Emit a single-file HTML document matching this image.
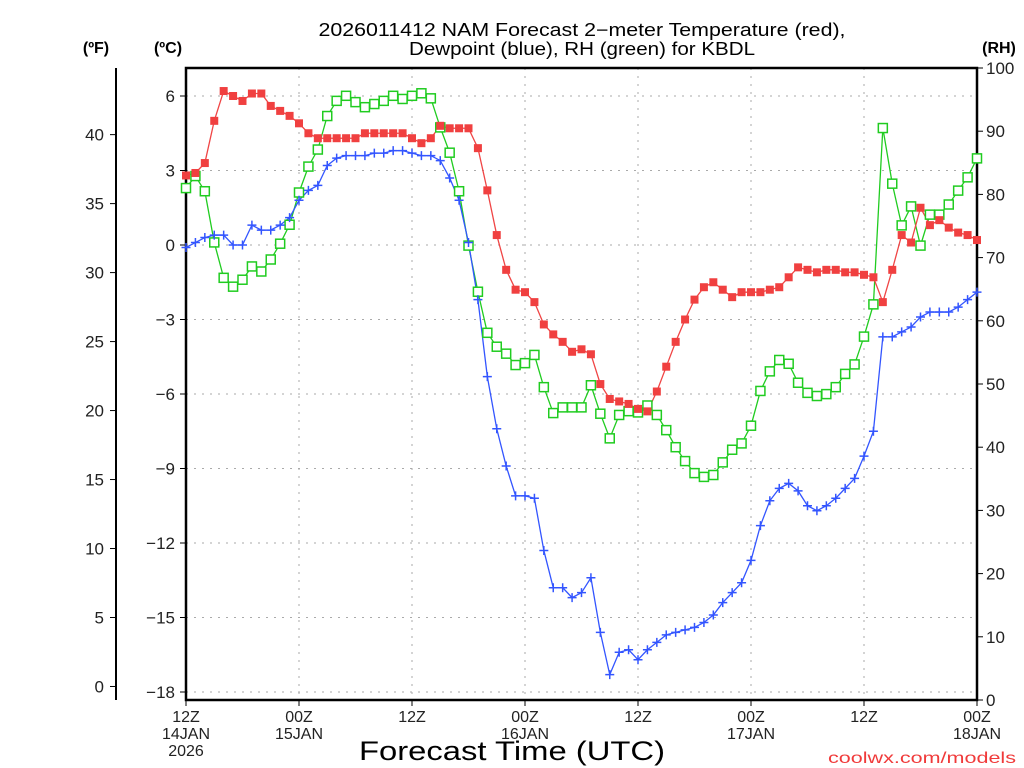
<!DOCTYPE html>
<html><head><meta charset="utf-8"><style>
html,body{margin:0;padding:0;background:#fff;}
svg{display:block;font-family:"Liberation Sans",sans-serif;}
</style></head><body>
<svg id="chart" width="1024" height="768" viewBox="0 0 1024 768" xmlns="http://www.w3.org/2000/svg">
<text x="582" y="36" font-size="18" text-anchor="middle" textLength="527" lengthAdjust="spacingAndGlyphs" fill="#000">2026011412 NAM Forecast 2−meter Temperature (red),</text>
<text x="582" y="55" font-size="18" text-anchor="middle" textLength="346" lengthAdjust="spacingAndGlyphs" fill="#000">Dewpoint (blue), RH (green) for KBDL</text>
<text x="96" y="53" font-size="16" font-weight="bold" text-anchor="middle">(ºF)</text>
<text x="168" y="53" font-size="16" font-weight="bold" text-anchor="middle">(ºC)</text>
<text x="999" y="53" font-size="16" font-weight="bold" text-anchor="middle">(RH)</text>
<text x="512" y="760" font-size="27" text-anchor="middle" textLength="306" lengthAdjust="spacingAndGlyphs" fill="#000">Forecast Time (UTC)</text>
<text x="1016" y="763" font-size="16" text-anchor="end" textLength="188" lengthAdjust="spacingAndGlyphs" fill="#f03a3a">coolwx.com/models</text>
<g id="g"></g>
</svg>
<script>
const hours = Array.from({length:85},(_,i)=>i);
const tempC = [2.8,2.9,3.3,5.0,6.2,6.0,5.8,6.1,6.1,5.6,5.4,5.2,4.9,4.5,4.3,4.3,4.3,4.3,4.3,4.5,4.5,4.5,4.5,4.5,4.3,4.1,4.3,4.8,4.7,4.7,4.7,3.9,2.2,0.4,-1.0,-1.8,-1.9,-2.3,-3.2,-3.6,-3.9,-4.3,-4.2,-4.4,-5.6,-6.2,-6.3,-6.4,-6.6,-6.7,-5.9,-4.9,-3.9,-3.0,-2.2,-1.7,-1.5,-1.8,-2.1,-1.9,-1.9,-1.9,-1.8,-1.7,-1.3,-0.9,-1.0,-1.1,-1.0,-1.0,-1.1,-1.1,-1.2,-1.3,-2.3,-1.0,0.4,0.1,1.5,0.8,1.0,0.7,0.5,0.4,0.2];
const dewC = [-0.1,0.1,0.3,0.4,0.4,0.0,0.0,0.8,0.6,0.6,0.8,1.1,1.8,2.2,2.4,3.2,3.5,3.6,3.6,3.6,3.7,3.7,3.8,3.8,3.7,3.6,3.6,3.4,2.7,1.8,0.1,-2.2,-5.3,-7.4,-8.9,-10.1,-10.1,-10.2,-12.3,-13.8,-13.8,-14.2,-14.0,-13.4,-15.6,-17.3,-16.4,-16.3,-16.7,-16.3,-16.0,-15.7,-15.6,-15.5,-15.4,-15.2,-14.9,-14.4,-14.0,-13.6,-12.7,-11.3,-10.3,-9.8,-9.6,-9.9,-10.5,-10.7,-10.5,-10.2,-9.8,-9.4,-8.5,-7.5,-3.7,-3.7,-3.5,-3.3,-2.9,-2.7,-2.7,-2.7,-2.5,-2.2,-1.9];
const rhPct = [81.0,82.9,80.5,72.4,66.8,65.4,66.5,68.6,67.8,69.7,72.2,75.2,80.3,84.4,87.1,92.4,94.8,95.6,94.6,93.8,94.3,94.8,95.6,95.1,95.6,96.0,95.2,90.6,86.6,80.5,71.9,64.6,58.1,55.9,54.8,53.0,53.3,54.6,49.5,45.4,46.3,46.3,46.3,49.8,45.3,41.4,45.1,45.7,45.5,46.6,45.1,42.7,40.0,37.8,35.9,35.3,35.6,37.6,39.6,40.6,43.4,48.9,52.0,53.8,53.2,50.2,48.6,48.1,48.4,49.5,51.6,53.1,57.5,62.6,90.5,81.7,75.1,78.1,71.9,76.8,76.8,78.4,80.6,82.7,85.7];
const cTicks = [6,3,0,-3,-6,-9,-12,-15,-18];
const fTicks = [0,5,10,15,20,25,30,35,40];
const rhTicks = [0,10,20,30,40,50,60,70,80,90,100];
const xTickHours = [0,12,24,36,48,60,72,84];
const xTickTop = ["12Z","00Z","12Z","00Z","12Z","00Z","12Z","00Z"];
const xTickMid = ["14JAN","15JAN","","16JAN","","17JAN","","18JAN"];
const xTickBot = ["2026","","","","","","",""];

const L=186,R=977,T=68,B=700;
const xs=h=>L+(R-L)*h/84;
const yC=c=>96+(6-c)*(692-96)/24;
const yF=f=>yC((f-32)*5/9);
const yRH=r=>B-(B-T)*r/100;
const NS="http://www.w3.org/2000/svg";
const g=document.getElementById('g');
function mk(tag,attrs,parent){const e=document.createElementNS(NS,tag);for(const k in attrs)e.setAttribute(k,attrs[k]);(parent||g).appendChild(e);return e;}

// grid
const grid=mk('g',{});


cTicks.forEach(c=>{const l=mk('line',{x1:L,x2:R,y1:yC(c),y2:yC(c),stroke:'#aaa','stroke-width':1,'stroke-dasharray':'2,6'},grid);

});
xTickHours.slice(1,-1).forEach(h=>{const l=mk('line',{x1:xs(h),x2:xs(h),y1:T,y2:B,stroke:'#aaa','stroke-width':1,'stroke-dasharray':'2,6'},grid);

});

// frame
const fr=mk('rect',{x:L,y:T,width:R-L,height:B-T,fill:'none',stroke:'#000','stroke-width':2.5});



// C axis
cTicks.forEach(c=>{mk('line',{x1:L-6,x2:L,y1:yC(c),y2:yC(c),stroke:'#000'});
const t=mk('text',{x:L-11,y:yC(c)+6,'font-size':17,'text-anchor':'end',fill:'#222'});t.textContent=(c<0?'−':'')+Math.abs(c);

});
// F axis
const fa=mk('line',{x1:116,x2:116,y1:T,y2:B,stroke:'#000','stroke-width':2});


fTicks.forEach(f=>{mk('line',{x1:110,x2:116,y1:yF(f),y2:yF(f),stroke:'#000'});
const t=mk('text',{x:104,y:yF(f)+6,'font-size':17,'text-anchor':'end',fill:'#222'});t.textContent=f;

});
// RH axis
rhTicks.forEach(r=>{mk('line',{x1:R,x2:R+6,y1:yRH(r),y2:yRH(r),stroke:'#000'});
const t=mk('text',{x:R+9,y:yRH(r)+6,'font-size':17,fill:'#222'});t.textContent=r;

});
// X axis
xTickHours.forEach((h,i)=>{mk('line',{x1:xs(h),x2:xs(h),y1:B,y2:B+6,stroke:'#000'});
[[xTickTop[i],722],[xTickMid[i],739],[xTickBot[i],756]].forEach(([s,y])=>{if(!s)return;
const t=mk('text',{x:xs(h),y:y,'font-size':16,'text-anchor':'middle',fill:'#222'});t.textContent=s;

});});

// series
function line(vals,yf,color,name){const p=mk('polyline',{points:vals.map((v,i)=>xs(hours[i])+','+yf(v)).join(' '),fill:'none',stroke:color,'stroke-width':1.3});

}
line(rhPct,yRH,'#20cc20','rh-line');
line(dewC,yC,'#3355ff','dewpoint-line');
line(tempC,yC,'#f04545','temperature-line');
rhPct.forEach((v,i)=>{const r=mk('rect',{x:xs(hours[i])-4.5,y:yRH(v)-4.5,width:9,height:9,fill:'#fff',stroke:'#20cc20','stroke-width':1.5});

});
dewC.forEach((v,i)=>{const x=xs(hours[i]),y=yC(v);const p=mk('path',{d:`M${x-4.5},${y}H${x+4.5}M${x},${y-4.5}V${y+4.5}`,stroke:'#3355ff','stroke-width':1.5});

});
tempC.forEach((v,i)=>{const r=mk('rect',{x:xs(hours[i])-4,y:yC(v)-4,width:8,height:8,fill:'#f04040'});

});
</script>
</body></html>
